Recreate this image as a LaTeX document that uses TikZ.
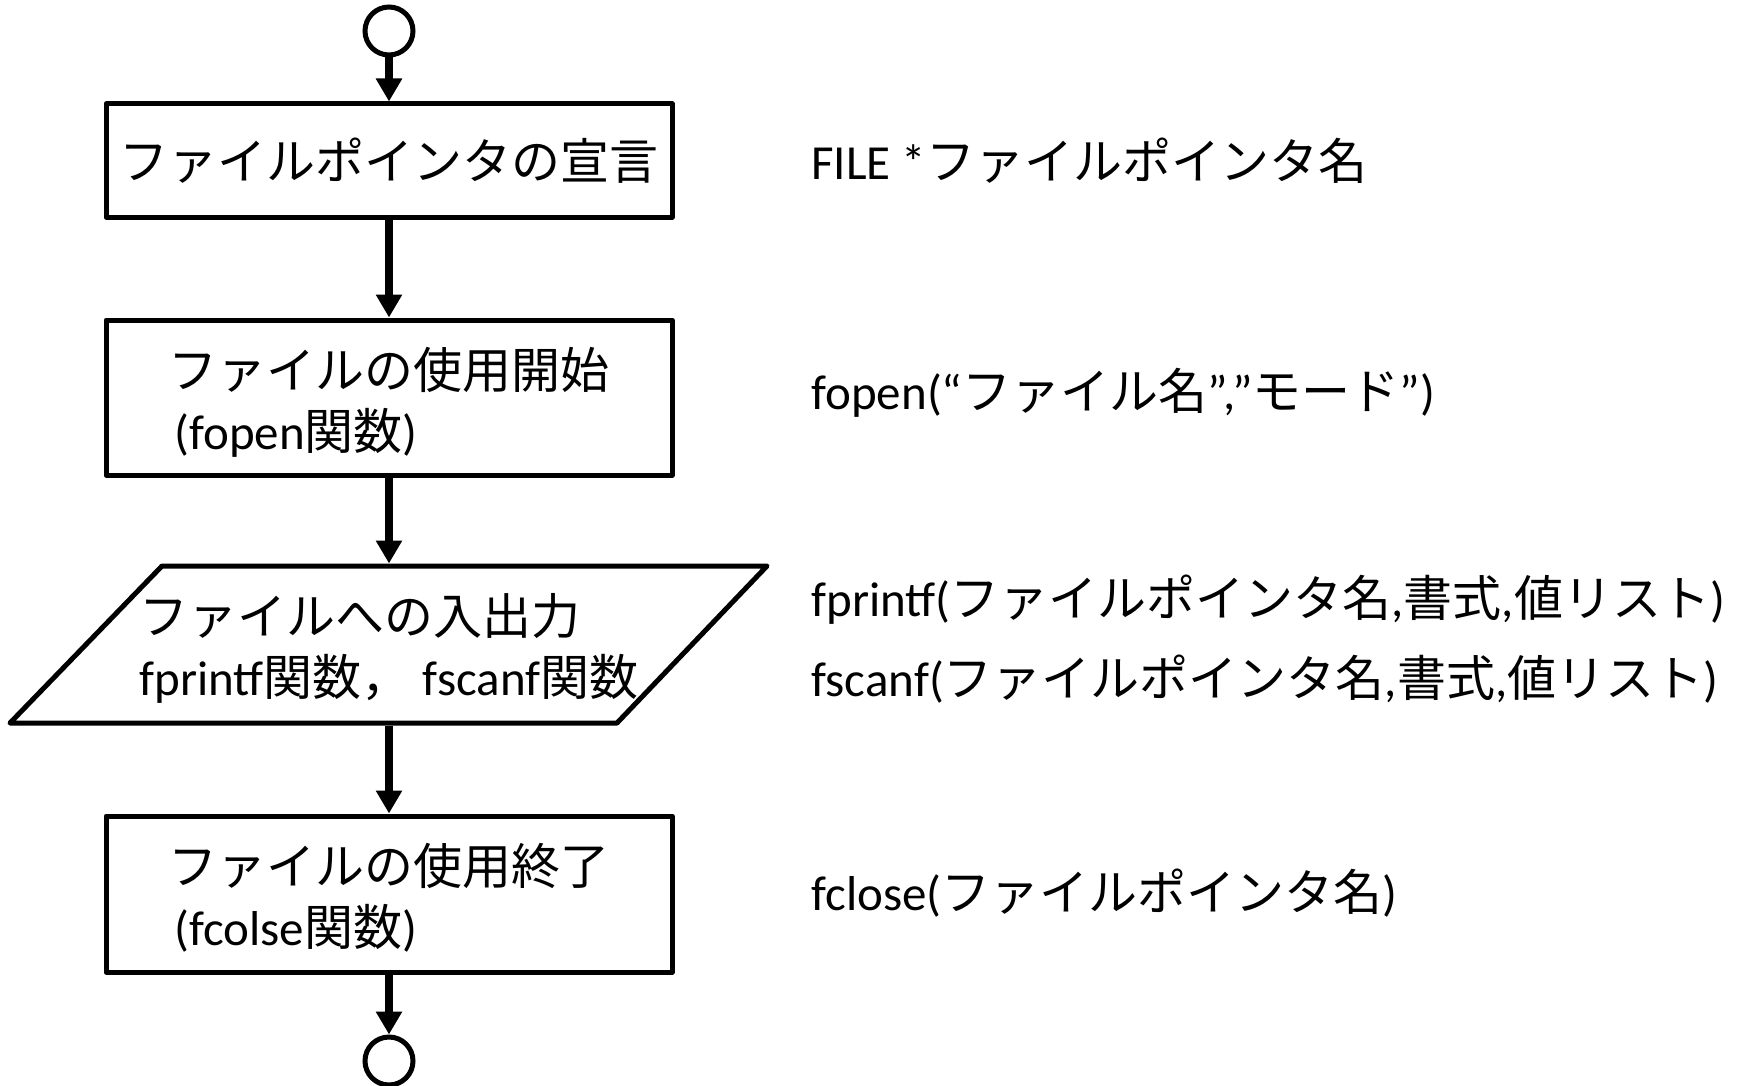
\documentclass[tikz,border=0pt]{standalone}
\usepackage{fontspec}
\setmainfont{Carlito}
\newfontfamily\jpfont{Noto Sans CJK JP}
\newcommand\jt[1]{{\jpfont #1}}
\newcommand\lowered[2]{\raisebox{#1}[\height][\depth]{\begin{tabular}{@{}l@{}}#2\end{tabular}}}
\usetikzlibrary{arrows.meta}
\begin{document}
\begin{tikzpicture}[x=0.5pt,y=-0.5pt,
  every node/.style={font=\fontsize{24.5pt}{30.5pt}\selectfont},
  proc/.style={draw, rectangle, line width=2.5pt, line join=round, minimum width=283pt, inner sep=0pt, align=left},
  term/.style={draw, circle, line width=2.5pt, minimum size=24pt, inner sep=0pt},
  flow/.style={line width=4pt, -{Triangle[length=11.5pt,width=12.5pt]}},
  shapeline/.style={line width=2.5pt, line join=round},
  code/.style={anchor=west, inner sep=0pt}]
\useasboundingbox (0,0) rectangle (1750,1086);
% flowchart
\node[term] (start) at (389,31) {};
\node[proc, minimum height=56.5pt] (decl) at (389,160.5) {\lowered{-3.3pt}{\jt{ファイルポインタの宣言}}};
\node[proc, minimum height=77.5pt] (open) at (389,397.5)
  {\lowered{-4.7pt}{\jt{ファイルの使用開始}\\\hspace{3pt}(fopen\jt{関数})}};
\coordinate (pa) at (162,566);
\coordinate (pb) at (767,566);
\coordinate (pc) at (617,723);
\coordinate (pd) at (10,723);
\draw[shapeline] (pa) -- (pb) -- (pc) -- (pd) -- cycle;
\node[inner sep=0pt, outer sep=1.25pt, minimum width=240pt, minimum height=78.5pt, align=left] (io) at (389,644.5)
  {\lowered{-4.2pt}{\jt{ファイルへの入出力}\\fprintf\jt{関数，}\hspace{0.25em}fscanf\jt{関数}}};
\node[proc, minimum height=78pt] (close) at (389,894)
  {\lowered{-4.5pt}{\jt{ファイルの使用終了}\\\hspace{3pt}(fcolse\jt{関数})}};
\node[term] (end) at (389,1061) {};
\draw[flow] (start) -- (decl);
\draw[flow] (decl) -- (open);
\draw[flow] (open) -- (io);
\draw[flow] (io) -- (close);
\draw[flow] (close) -- (end);
% code annotations
\node[code] (c1) at (811,161) {FILE *\jt{ファイルポインタ名}};
\node[code] (c2) at (811,393) {fopen(“\jt{ファイル名}”,”\jt{モード}”)};
\node[code] (c3) at (811,600) {fprintf(\jt{ファイルポインタ名},\jt{書式},\jt{値リスト})};
\node[code] (c4) at (811,679) {fscanf(\jt{ファイルポインタ名},\jt{書式},\jt{値リスト})};
\node[code] (c5) at (811,893) {fclose(\jt{ファイルポインタ名})};
\end{tikzpicture}
\end{document}
